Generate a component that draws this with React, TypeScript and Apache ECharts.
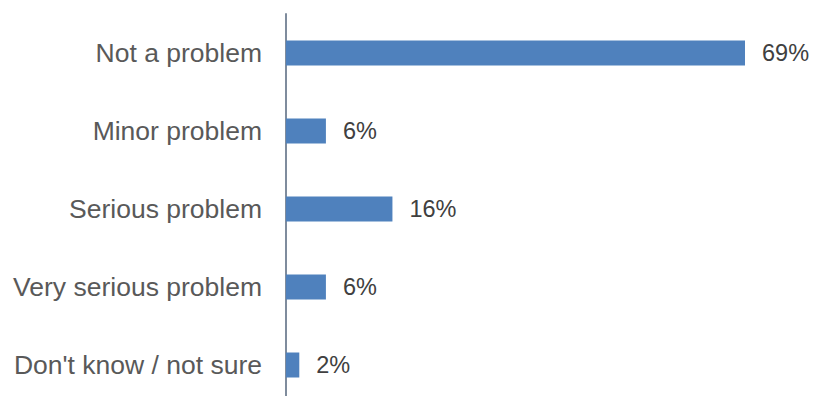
import React, { useEffect, useRef } from "react";
import * as echarts from "echarts";

const categories = ["Not a problem", "Minor problem", "Serious problem", "Very serious problem", "Don't know / not sure"];
const values = [69, 6, 16, 6, 2];

export default function App() {
  const ref = useRef<HTMLDivElement>(null);
  useEffect(() => {
    const chart = echarts.init(ref.current!, null, { renderer: "svg" });
    chart.setOption({
      animation: false,
      grid: { left: 286, top: 14, width: 459, height: 390, containLabel: false },
      xAxis: {
        type: "value",
        min: 0,
        max: 69,
        show: false,
      },
      yAxis: {
        type: "category",
        data: categories,
        inverse: true,
        axisLine: { show: true, lineStyle: { color: "#7f8c9d", width: 2 } },
        axisTick: { show: false },
        axisLabel: {
          color: "#595959",
          fontSize: 26.5,
          fontFamily: "Liberation Sans",
          margin: 24,
        },
      },
      series: [
        {
          type: "bar",
          data: values,
          barWidth: 25,
          itemStyle: { color: "#4f81bd" },
          label: {
            show: true,
            position: "right",
            distance: 17,
            formatter: "{c}%",
            color: "#404040",
            fontSize: 23.5,
            fontFamily: "Liberation Sans",
          },
        },
      ],
    });
    return () => chart.dispose();
  }, []);
  return (
    <div style={{ position: "absolute", left: 0, top: 0, width: 813, height: 396, overflow: "hidden" }}>
      <div ref={ref} style={{ width: 813, height: 420 }} />
    </div>
  );
}
